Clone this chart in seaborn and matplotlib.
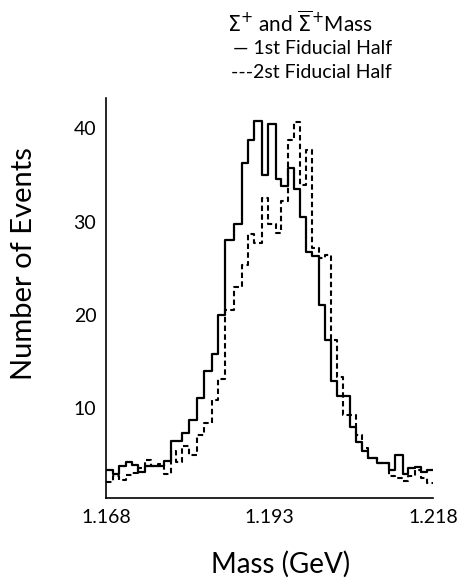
import numpy as np
import pandas as pd
import matplotlib
matplotlib.use("Agg")
import matplotlib.pyplot as plt
import seaborn as sns

# --- data (bin edges in GeV) ------------------------------------------
bin_edges = [1.1680, 1.1690, 1.1700, 1.1710, 1.1719, 1.1729, 1.1739, 1.1749,
             1.1759, 1.1769, 1.1779, 1.1787, 1.1796, 1.1807, 1.1819, 1.1830,
             1.1842, 1.1852, 1.1862, 1.1875, 1.1888, 1.1897, 1.1907, 1.1918,
             1.1928, 1.1940, 1.1948, 1.1958, 1.1968, 1.1977, 1.1986, 1.1995,
             1.2005, 1.2015, 1.2024, 1.2033, 1.2043, 1.2053, 1.2063, 1.2072,
             1.2081, 1.2094, 1.2103, 1.2112, 1.2122, 1.2134, 1.2142, 1.2152,
             1.2161, 1.2171, 1.2180]
first_half = [3.4, 3.0, 3.8, 4.3, 3.9, 3.2, 3.8, 3.8, 3.8, 4.4,
              6.5, 6.5, 7.4, 8.8, 11.1, 14.0, 15.8, 20.0, 28.0, 29.7,
              36.3, 38.7, 40.8, 35.0, 40.5, 34.6, 33.8, 35.8, 33.5, 30.5,
              26.8, 26.3, 21.1, 17.3, 12.9, 11.3, 11.3, 8.0, 6.4, 5.4,
              4.65, 4.1, 4.1, 3.4, 5.0, 3.0, 3.6, 3.75, 3.2, 3.4]
second_half = [2.1, 2.7, 2.3, 2.9, 3.1, 3.6, 4.5, 3.8, 4.0, 3.0,
               5.4, 4.3, 6.0, 5.0, 7.1, 8.4, 10.9, 13.1, 20.5, 23.0,
               25.4, 28.7, 27.7, 32.5, 29.8, 28.8, 32.2, 38.7, 40.7, 33.9,
               37.7, 27.2, 26.1, 26.4, 17.3, 13.4, 9.3, 9.3, 7.1, 5.8,
               4.65, 4.1, 4.1, 2.7, 2.5, 2.2, 2.8, 3.4, 2.5, 2.0]
series_labels = ["— 1st Fiducial Half", "---2st Fiducial Half"]
title_text = r"$\Sigma^{+}$ and $\overline{\Sigma}^{+}$Mass"
x_ticks = [1.168, 1.1805, 1.193, 1.2055, 1.218]
x_ticklabels = ["1.168", "", "1.193", "", "1.218"]
y_ticks = [10, 20, 30, 40]

edges = np.array(bin_edges)
centers = (edges[:-1] + edges[1:]) / 2
df1 = pd.DataFrame({"mass": centers, "events": first_half})
df2 = pd.DataFrame({"mass": centers, "events": second_half})

# --- style ------------------------------------------------------------
sns.set_theme(style="white")
plt.rcParams["font.family"] = ["Lato", "DejaVu Sans"]
plt.rcParams["mathtext.fontset"] = "dejavusans"

fig = plt.figure(figsize=(4.63, 5.88), dpi=100)
ax = fig.add_axes([106 / 463, 1 - 498 / 588, 327 / 463, 400 / 588])

sns.histplot(data=df1, x="mass", weights="events",
             bins=bin_edges, element="step", fill=False, color="black",
             linewidth=1.6, ax=ax)
sns.histplot(data=df2, x="mass", weights="events",
             bins=bin_edges, element="step", fill=False, color="black",
             linewidth=1.5, linestyle=(0, (2.6, 1.6)), ax=ax)

ax.set_xlim(1.168, 1.218)
ax.set_ylim(0.39, 43.25)
ax.set_xticks(x_ticks)
ax.set_xticklabels(x_ticklabels)
ax.set_yticks(y_ticks)
ax.tick_params(axis="both", direction="in", length=7, width=1.2,
               labelsize=14, color="black", labelcolor="black")
ax.tick_params(axis="x", pad=8)
ax.tick_params(axis="y", pad=7)
for s in ["top", "right"]:
    ax.spines[s].set_visible(False)
for s in ["left", "bottom"]:
    ax.spines[s].set_color("black")
    ax.spines[s].set_linewidth(1.2)

ax.set_xlabel("Mass (GeV)", fontsize=20, color="black")
ax.xaxis.set_label_coords(0.535, -0.133)
ax.set_ylabel("Number of Events", fontsize=21, color="black")
ax.yaxis.set_label_coords(-0.21, 0.585)

fig.text(300 / 463, 1 - 23 / 588, title_text, ha="center", va="center",
         fontsize=15, color="black")
fig.text(392 / 463, 1 - 48 / 588, series_labels[0], ha="right", va="center",
         fontsize=14, color="black", family=["DejaVu Sans"] if False else None)
fig.text(392 / 463, 1 - 73 / 588, series_labels[1], ha="right", va="center",
         fontsize=14, color="black")

fig.savefig("out.png", dpi=100, facecolor="white")
